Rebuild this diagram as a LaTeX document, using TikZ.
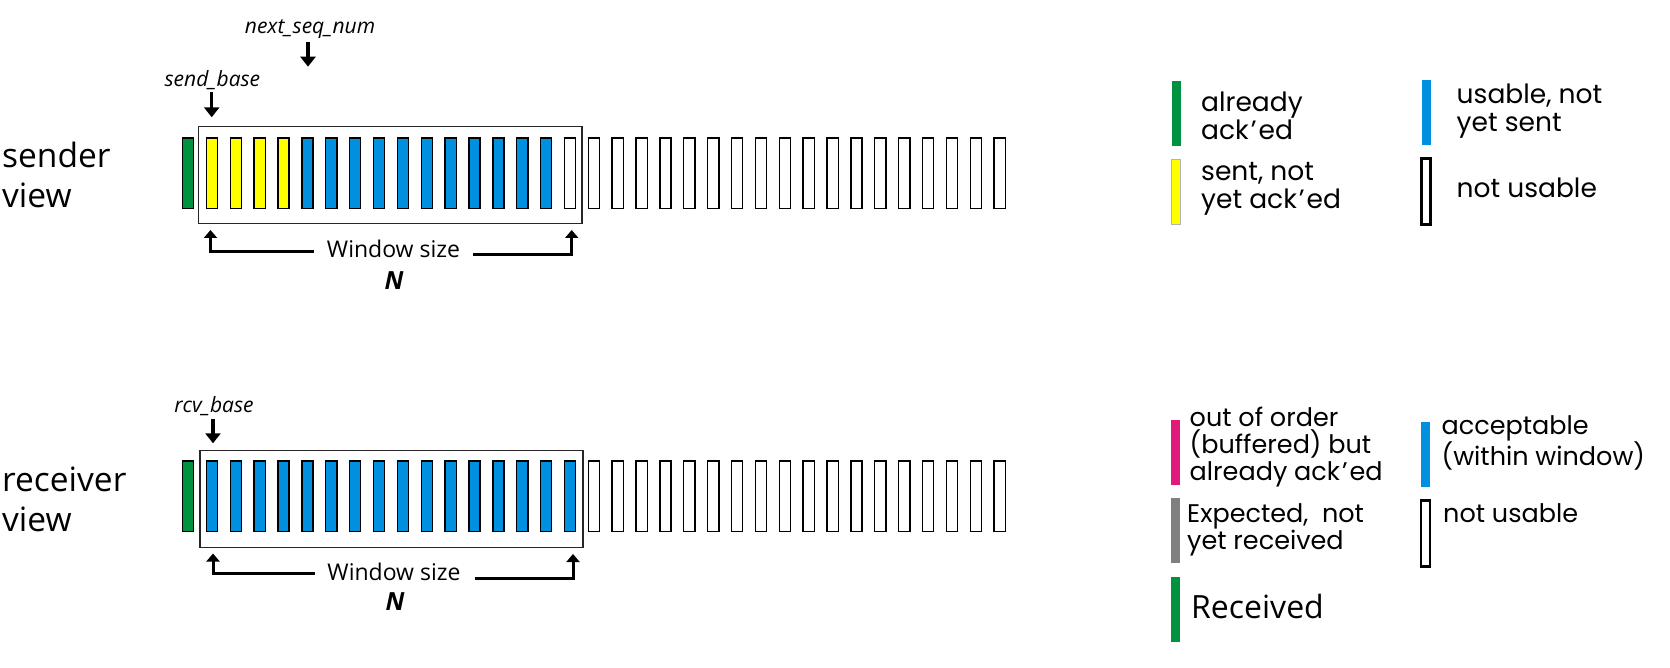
\documentclass[tikz,border=0pt]{standalone}
\usepackage{fontspec}
\setmainfont{Open Sans}
\newfontfamily\geo{Poppins}
\usetikzlibrary{arrows.meta}
\definecolor{ackgreen}{RGB}{0,146,63}
\definecolor{sentyellow}{RGB}{255,255,0}
\definecolor{usblue}{RGB}{0,144,223}
\definecolor{oopink}{RGB}{224,25,122}
\definecolor{expgray}{RGB}{128,128,128}
\newcommand{\apos}{\kern2pt’\kern2pt}
\tikzset{
  bar/.style={draw=black, line width=1.4pt, minimum width=11.2pt, minimum height=70.6pt, inner sep=0pt, outer sep=0pt},
  winbox/.style={draw=black!85, line width=1.5pt, inner sep=0pt, outer sep=0pt},
  arr/.style={line width=3.5pt, -{Triangle[width=15pt,length=10pt]}},
  uparr/.style={line width=3pt, -{Triangle[width=13pt,length=8pt]}},
  ptr/.style={font=\itshape\fontsize{21}{24}\selectfont, inner sep=0pt},
  view/.style={font=\fontsize{33.5}{40}\selectfont, align=left, anchor=west, inner sep=0pt},
  wsize/.style={font=\fontsize{23}{28}\selectfont, inner sep=0pt},
  ntext/.style={font=\bfseries\itshape\fontsize{25}{30}\selectfont, inner sep=0pt},
  legbar/.style={inner sep=0pt, outer sep=0pt, minimum width=9pt, minimum height=65pt},
  nubar/.style={draw=black, line width=2.6pt, inner sep=0pt, outer sep=0pt, minimum width=9pt, minimum height=66pt},
  legtxt/.style={font=\geo\fontsize{26.5}{28}\selectfont, align=left, anchor=west, inner sep=0pt},
  legtxtr/.style={font=\geo\fontsize{25.5}{27}\selectfont, align=left, anchor=west, inner sep=0pt},
}
\begin{document}
\begin{tikzpicture}[x=1pt,y=-1pt]
\useasboundingbox (0,0) rectangle (1670,668);

% ---------------- sender ----------------
\node[view] (sv) at (2,175) {sender\\view};
\foreach \i in {0,...,34}{
  \ifnum\i=0 \def\c{ackgreen}\else\ifnum\i<5 \def\c{sentyellow}\else\ifnum\i<16 \def\c{usblue}\else\def\c{white}\fi\fi\fi
  \node[bar, fill=\c] (s\i) at ({188.1+23.87*\i},173.3) {};
}
\node[winbox, minimum width=383.4pt, minimum height=97pt] (sw) at (390.4,175.2) {};

\node[ptr] (sb) at (212.4,80) {send\_base};
\coordinate (sbs) at (211.7,92.5);
\coordinate (sbt) at (211.7,117.3);
\draw[arr] (sbs) -- (sbt);
\node[ptr] (ns) at (310,29.5) {next\_seq\_num};
\coordinate (nss) at (308,41.7);
\coordinate (nst) at (308,66.7);
\draw[arr] (nss) -- (nst);

\node[wsize] (sws) at (393.5,249) {Window size};
\coordinate (sl1) at (313.5,251.7);
\coordinate (sl2) at (210.5,230);
\coordinate (sr1) at (473,254.3);
\coordinate (sr2) at (571.7,230);
\draw[uparr] (sl1) -| (sl2);
\draw[uparr] (sr1) -| (sr2);
\node[ntext] (sn) at (394,280.5) {N};

% ---------------- receiver ----------------
\node[view] (rv) at (2,499) {receiver\\view};
\foreach \i in {0,...,34}{
  \ifnum\i=0 \def\c{ackgreen}\else\ifnum\i<17 \def\c{usblue}\else\def\c{white}\fi\fi
  \node[bar, fill=\c] (r\i) at ({188.1+23.87*\i},496.3) {};
}
\node[winbox, minimum width=383.4pt, minimum height=97pt] (rw) at (391.5,499.2) {};

\node[ptr] (rb) at (214,406) {rcv\_base};
\coordinate (rbs) at (213,418.5);
\coordinate (rbt) at (213,443.3);
\draw[arr] (rbs) -- (rbt);

\node[wsize] (rws) at (394,572) {Window size};
\coordinate (rl1) at (314.6,573.5);
\coordinate (rl2) at (213,553.5);
\coordinate (rr1) at (474.5,578.5);
\coordinate (rr2) at (573,554);
\draw[uparr] (rl1) -| (rl2);
\draw[uparr] (rr1) -| (rr2);
\node[ntext] (rn) at (395,601.5) {N};

% ---------------- sender legend ----------------
\node[legbar, fill=ackgreen] (lg1) at (1176,113.1) {};
\node[legtxt] (lt1) at (1201,115.5) {already\\ack\apos ed};
\node[legbar, fill=sentyellow, draw=black!30, line width=0.4pt] (lg2) at (1176,191.3) {};
\node[legtxt] (lt2) at (1201,189.3) {sent, not\\yet ack\apos ed};
\node[legbar, fill=usblue] (lg3) at (1426.6,112.4) {};
\node[legtxt] (lt3) at (1456.5,111.3) {usable, not\\yet sent};
\node[nubar] (lg4) at (1426.1,191.5) {};
\node[legtxt] (lt4) at (1456.5,187.7) {not usable};

% ---------------- receiver legend ----------------
\node[legbar, fill=oopink] (lr1) at (1175.8,452.8) {};
\node[legtxtr] (ltr1) at (1189.5,447) {out of order\\(buffered) but\\already ack\apos ed};
\node[legbar, fill=expgray] (lr2) at (1175.8,530.6) {};
\node[legtxtr] (ltr2) at (1187,529.6) {Expected,~ not\\yet received};
\node[legbar, fill=ackgreen] (lr3) at (1175.8,609.7) {};
\node[font=\fontsize{32}{36}\selectfont, anchor=west, inner sep=0pt] (ltr3) at (1191,606) {Received};
\node[legbar, fill=usblue] (lr4) at (1425.8,454.8) {};
\node[legtxtr] (ltr4) at (1441.5,442.8) {acceptable\\(within window)};
\node[nubar] (lr5) at (1425.3,533.5) {};
\node[legtxtr] (ltr5) at (1443,512.8) {not usable};
\end{tikzpicture}
\end{document}
